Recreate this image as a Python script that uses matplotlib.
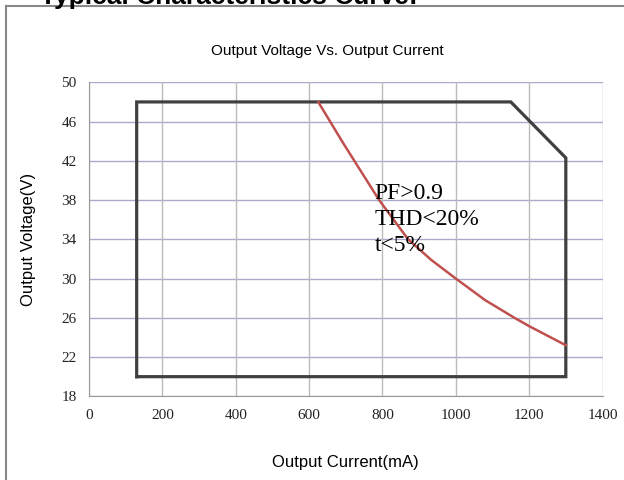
import matplotlib
matplotlib.use("Agg")
import matplotlib.pyplot as plt
from matplotlib.lines import Line2D

# Data
curve_current = [625, 693, 791, 870, 933, 1000, 1080, 1160, 1200, 1300]
curve_voltage = [48.0, 43.8, 38.0, 34.0, 31.9, 30.0, 27.8, 26.0, 25.15, 23.2]
bound_current = [130, 130, 1150, 1300, 1300, 130]
bound_voltage = [20, 48, 48, 42.3, 20, 20]
x_ticks = [0, 200, 400, 600, 800, 1000, 1200, 1400]
y_ticks = [18, 22, 26, 30, 34, 38, 42, 46, 50]

fig = plt.figure(figsize=(6.24, 4.8), dpi=100)
ax = fig.add_axes([89/624, 1-396.3/480, (602.5-89)/624, (396.3-82.3)/480])

ax.set_xlim(0, 1400)
ax.set_ylim(18, 50)
ax.set_xticks(x_ticks)
ax.set_yticks(y_ticks)
for v in y_ticks:
    ax.axhline(v, color="#aaaacc", lw=1.0, zorder=1)
for v in x_ticks:
    ax.axvline(v, color="#bbbbbb", lw=1.0, zorder=1)
for s in ax.spines.values():
    s.set_visible(False)
ax.spines['left'].set_visible(True)
ax.spines['left'].set_color("#999999")
ax.spines['bottom'].set_visible(True)
ax.spines['bottom'].set_color("#999999")

ax.tick_params(length=0, pad=9, labelsize=11)
for lab in ax.get_xticklabels() + ax.get_yticklabels():
    lab.set_family("Liberation Serif")
    lab.set_color("#222222")

ax.plot(bound_current, bound_voltage, color="#404040", lw=2.3, zorder=3,
        solid_joinstyle="miter")
ax.plot(curve_current, curve_voltage, color="#c0504d", lw=1.8, zorder=4)

ax.text(778, 32.8, "PF>0.9\nTHD<20%\nt<5%", family="Liberation Serif",
        fontsize=17, va="baseline", ha="left", linespacing=1.3, zorder=5)

ax.set_xlabel("Output Current(mA)", family="Liberation Sans", fontsize=12, labelpad=24)
ax.set_ylabel("Output Voltage(V)", family="Liberation Sans", fontsize=12, labelpad=18)
fig.text(327/624, 1-51/480, "Output Voltage Vs. Output Current", family="Liberation Sans",
         fontsize=11, ha="center", va="center")

fig.text(40/624, 1-4/480, "Typical Characteristics Curve:", family="Liberation Sans",
         fontweight="bold", fontsize=19, ha="left", va="baseline")

fig.add_artist(Line2D([6/624, 6/624], [0, 1-6/480], transform=fig.transFigure,
                      color="#888888", lw=1.5))
fig.add_artist(Line2D([6/624, 1], [1-6/480, 1-6/480], transform=fig.transFigure,
                      color="#888888", lw=1.5))

fig.savefig("out.png", dpi=100)
